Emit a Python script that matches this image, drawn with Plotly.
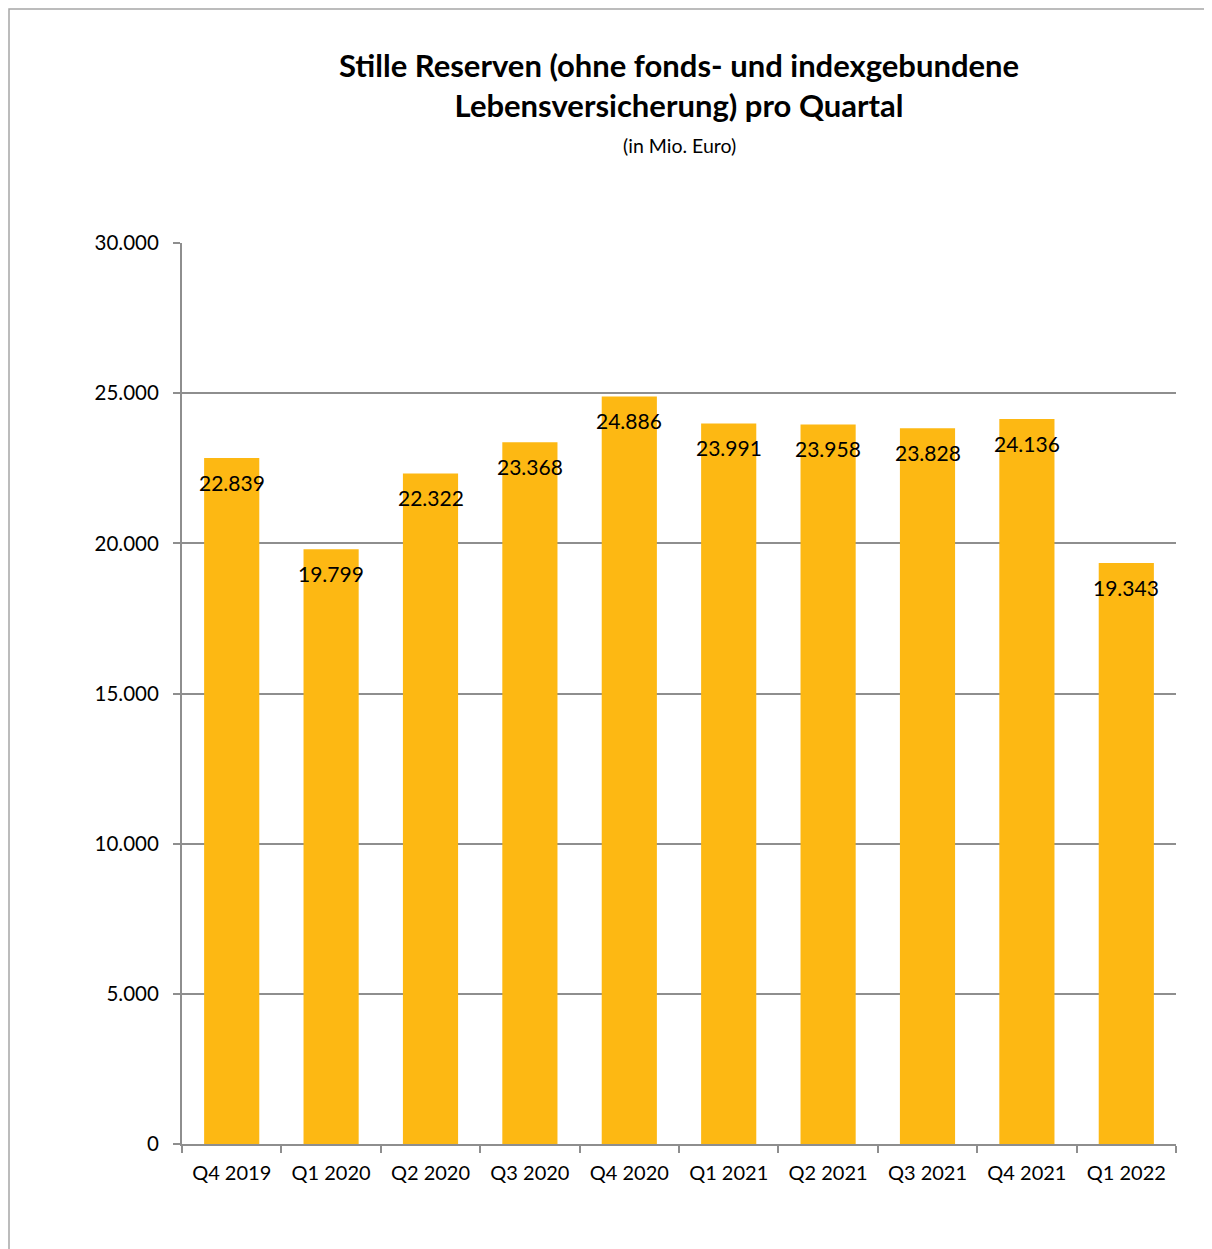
import plotly.graph_objects as go

categories = ["Q4 2019", "Q1 2020", "Q2 2020", "Q3 2020", "Q4 2020",
              "Q1 2021", "Q2 2021", "Q3 2021", "Q4 2021", "Q1 2022"]
values = [22839, 19799, 22322, 23368, 24886, 23991, 23958, 23828, 24136, 19343]
value_labels = ["22.839", "19.799", "22.322", "23.368", "24.886",
                "23.991", "23.958", "23.828", "24.136", "19.343"]
y_tickvals = [0, 5000, 10000, 15000, 20000, 25000, 30000]
y_ticktext = ["0", "5.000", "10.000", "15.000", "20.000", "25.000", "30.000"]

# page offset of 8px (body margin)
W, H = 1204, 1241
ML, MT = 174, 235
PW, PH = 994, 901
MR, MB = W - ML - PW, H - MT - PH

FONT = "Lato, Open Sans, sans-serif"
BAR = "#FDB813"
GRID = "#8E8E8E"

fig = go.Figure()
fig.add_trace(go.Bar(
    x=categories, y=values, marker=dict(color=BAR, line=dict(width=0)),
    width=0.555, hoverinfo="skip",
))

for c, v, t in zip(categories, values, value_labels):
    fig.add_annotation(x=c, y=v, text=t, showarrow=False, xref="x", yref="y",
                       yanchor="middle", yshift=-24,
                       font=dict(family=FONT, size=21, color="#000000"))

fig.add_annotation(x=0.5, y=1 + (MT - 77) / PH, xref="paper", yref="paper",
                   text="<b>Stille Reserven (ohne fonds- und indexgebundene<br>Lebensversicherung) pro Quartal</b>",
                   showarrow=False, xanchor="center", yanchor="middle",
                   font=dict(family=FONT, size=31, color="#000000"))
fig.add_annotation(x=0.5, y=1 + (MT - 137) / PH, xref="paper", yref="paper",
                   text="(in Mio. Euro)", showarrow=False, xanchor="center", yanchor="middle",
                   font=dict(family=FONT, size=19.5, color="#000000"))

# outer border
fig.add_shape(type="rect", xref="paper", yref="paper",
              x0=(1 - ML) / PW, x1=(W + 10 - ML) / PW,
              y0=-(MB + 10) / PH, y1=1 + (MT - 1) / PH,
              line=dict(color="#A6A6A6", width=1.5), fillcolor="rgba(0,0,0,0)", layer="below")

fig.update_layout(
    width=W, height=H,
    margin=dict(l=ML, r=MR, t=MT, b=MB),
    paper_bgcolor="white", plot_bgcolor="white",
    showlegend=False, bargap=0.445,
    font=dict(family=FONT, size=20, color="#000000"),
)
fig.update_xaxes(
    type="category", showline=True, linecolor=GRID, linewidth=2,
    ticks="outside", tickson="boundaries", ticklen=7, tickcolor=GRID, tickwidth=2,
    showgrid=False, tickfont=dict(family=FONT, size=20, color="#000000"),
    ticklabelstandoff=10,
)
fig.update_yaxes(
    range=[0, 30000], tickvals=y_tickvals, ticktext=y_ticktext,
    showline=True, linecolor=GRID, linewidth=2,
    ticks="outside", ticklen=7, tickcolor=GRID, tickwidth=2,
    showgrid=True, gridcolor=GRID, gridwidth=1.5, zeroline=False,
    tickfont=dict(family=FONT, size=20.5, color="#000000"),
    ticklabelstandoff=10,
)

fig.write_html("out.html")
